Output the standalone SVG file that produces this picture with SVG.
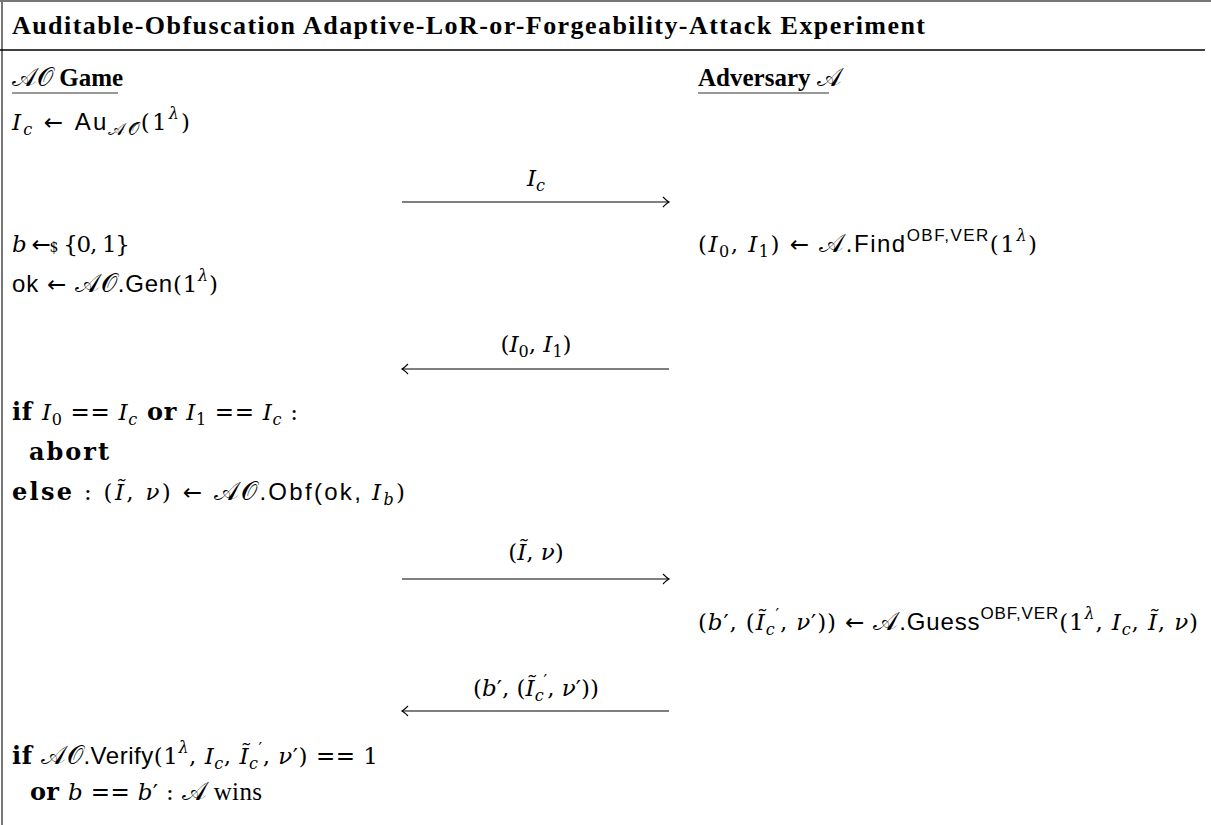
<svg xmlns="http://www.w3.org/2000/svg" width="1211" height="825" viewBox="0 0 1211 825">
<style>
text { font-family: "DejaVu Serif", serif; font-size: 23px; fill: #000; }
.i { font-style: italic; }
.s { font-family: "Liberation Sans", sans-serif; font-style: normal; font-size: 24px; }
.b { font-weight: bold; font-size: 24px; }
.sm { font-size: 16px; }
.ss { font-family: "Liberation Sans", sans-serif; font-size: 17px; }
.op { font-family: "DejaVu Sans", sans-serif; font-size: 23px; }
.cal { font-family: "DejaVu Serif", serif; font-size: 26px; }
.calsm { font-family: "DejaVu Serif", serif; font-size: 18px; }
.txt { font-family: "Liberation Serif", serif; font-size: 25px; }
.title { font-family: "Liberation Serif", serif; font-weight: bold; font-size: 26px; }
.frame { stroke: #777; stroke-width: 2; fill: none; }
.rule { stroke: #000; stroke-width: 1.5; }
.ul { stroke: #333; stroke-width: 1.2; }
.msg { stroke: #000; stroke-width: 1.2; fill: none; marker-end: url(#ah); }
</style>
<defs>
<marker id="ah" viewBox="-10 -7 12 14" refX="0" refY="0" markerWidth="12" markerHeight="14" markerUnits="userSpaceOnUse" orient="auto">
<path d="M-6,-5 Q-2,-1 0,0 Q-2,1 -6,5" fill="none" stroke="#000" stroke-width="1.1"/>
</marker>
</defs>
<rect width="1211" height="825" fill="#fff"/>
<g id="frame">
<line class="frame" x1="0" y1="1" x2="1211" y2="1"/>
<line class="frame" x1="2" y1="0" x2="2" y2="825"/>
<line class="rule" x1="0" y1="50" x2="1205" y2="50"/>
</g>
<g id="title">
<text class="title" x="12" y="34" textLength="913">Auditable-Obfuscation Adaptive-LoR-or-Forgeability-Attack Experiment</text>
</g>
<g id="game-header">
<text x="12" y="86"><tspan class="cal">𝒜𝒪</tspan><tspan class="txt b"> Game</tspan></text>
<line class="ul" x1="12" y1="93" x2="118" y2="93"/>
</g>
<g id="adversary-header">
<text x="698" y="86"><tspan class="txt b">Adversary </tspan><tspan class="cal">𝒜</tspan></text>
<line class="ul" x1="698" y1="93" x2="829" y2="93"/>
</g>
<g id="game-init">
<text x="12" y="130" textLength="178"><tspan class="i">I</tspan><tspan class="i sm" dy="5">c</tspan><tspan dy="-5"> </tspan><tspan class="op">←</tspan><tspan> </tspan><tspan class="s">Au</tspan><tspan class="calsm" dy="5">𝒜𝒪</tspan><tspan dy="-5">(1</tspan><tspan class="i sm" dy="-11">λ</tspan><tspan dy="11">)</tspan></text>
</g>
<g id="game-sample">
<text x="12" y="252" textLength="118"><tspan class="i">b</tspan><tspan> </tspan><tspan class="op">←</tspan><tspan font-size="14">$</tspan><tspan> {0, 1}</tspan></text>
<text x="12" y="292" textLength="206"><tspan class="s">ok</tspan><tspan> </tspan><tspan class="op">←</tspan><tspan> </tspan><tspan class="cal">𝒜𝒪</tspan><tspan class="s">.Gen</tspan><tspan>(1</tspan><tspan class="i sm" dy="-11">λ</tspan><tspan dy="11">)</tspan></text>
</g>
<g id="adv-find">
<text x="698" y="252" textLength="339"><tspan>(</tspan><tspan class="i">I</tspan><tspan class="sm" dy="5">0</tspan><tspan dy="-5">, </tspan><tspan class="i">I</tspan><tspan class="sm" dy="5">1</tspan><tspan dy="-5">) </tspan><tspan class="op">←</tspan><tspan> </tspan><tspan class="cal">𝒜</tspan><tspan class="s">.Find</tspan><tspan class="ss" dy="-11">OBF,VER</tspan><tspan dy="11">(1</tspan><tspan class="i sm" dy="-11">λ</tspan><tspan dy="11">)</tspan></text>
</g>
<g id="game-check">
<text x="12" y="420" textLength="286"><tspan class="b">if </tspan><tspan class="i">I</tspan><tspan class="sm" dy="5">0</tspan><tspan dy="-5"> </tspan><tspan class="op">==</tspan><tspan> </tspan><tspan class="i">I</tspan><tspan class="i sm" dy="5">c</tspan><tspan class="b" dy="-5"> or </tspan><tspan class="i">I</tspan><tspan class="sm" dy="5">1</tspan><tspan dy="-5"> </tspan><tspan class="op">==</tspan><tspan> </tspan><tspan class="i">I</tspan><tspan class="i sm" dy="5">c</tspan><tspan dy="-5"> :</tspan></text>
<text x="29" y="460" class="b" textLength="80">abort</text>
<text x="12" y="500" textLength="393"><tspan class="b">else</tspan><tspan> : (</tspan><tspan class="i">Ĩ</tspan><tspan>, </tspan><tspan class="i">ν</tspan><tspan>) </tspan><tspan class="op">←</tspan><tspan> </tspan><tspan class="cal">𝒜𝒪</tspan><tspan class="s">.Obf(ok, </tspan><tspan class="i">I</tspan><tspan class="i sm" dy="5">b</tspan><tspan dy="-5">)</tspan></text>
</g>
<g id="adv-guess">
<text x="698" y="630" textLength="500"><tspan>(</tspan><tspan class="i">b</tspan><tspan>′, (</tspan><tspan class="i">Ĩ</tspan><tspan class="i sm" dy="5">c</tspan><tspan class="sm" dy="-15">′</tspan><tspan dy="10">, </tspan><tspan class="i">ν</tspan><tspan>′)) </tspan><tspan class="op">←</tspan><tspan> </tspan><tspan class="cal">𝒜</tspan><tspan class="s">.Guess</tspan><tspan class="ss" dy="-11">OBF,VER</tspan><tspan dy="11">(1</tspan><tspan class="i sm" dy="-11">λ</tspan><tspan dy="11">, </tspan><tspan class="i">I</tspan><tspan class="i sm" dy="5">c</tspan><tspan dy="-5">, </tspan><tspan class="i">Ĩ</tspan><tspan>, </tspan><tspan class="i">ν</tspan><tspan>)</tspan></text>
</g>
<g id="game-verify">
<text x="12" y="764" textLength="366"><tspan class="b">if </tspan><tspan class="cal">𝒜𝒪</tspan><tspan class="s">.Verify</tspan><tspan>(1</tspan><tspan class="i sm" dy="-11">λ</tspan><tspan dy="11">, </tspan><tspan class="i">I</tspan><tspan class="i sm" dy="5">c</tspan><tspan dy="-5">, </tspan><tspan class="i">Ĩ</tspan><tspan class="i sm" dy="5">c</tspan><tspan class="sm" dy="-15">′</tspan><tspan dy="10">, </tspan><tspan class="i">ν</tspan><tspan>′) </tspan><tspan class="op">==</tspan><tspan> 1</tspan></text>
<text x="30" y="800" textLength="232"><tspan class="b">or </tspan><tspan class="i">b</tspan><tspan> </tspan><tspan class="op">==</tspan><tspan> </tspan><tspan class="i">b</tspan><tspan>′ : </tspan><tspan class="cal">𝒜</tspan><tspan class="txt"> wins</tspan></text>
</g>
<g id="connectors">
<line class="msg" x1="402" y1="202" x2="669" y2="202"/>
<line class="msg" x1="669" y1="369" x2="402" y2="369"/>
<line class="msg" x1="402" y1="579" x2="669" y2="579"/>
<line class="msg" x1="669" y1="711" x2="402" y2="711"/>
</g>
<g id="labels">
<text x="536" y="186" text-anchor="middle"><tspan class="i">I</tspan><tspan class="i sm" dy="5">c</tspan></text>
<text x="536" y="352" text-anchor="middle"><tspan>(</tspan><tspan class="i">I</tspan><tspan class="sm" dy="5">0</tspan><tspan dy="-5">, </tspan><tspan class="i">I</tspan><tspan class="sm" dy="5">1</tspan><tspan dy="-5">)</tspan></text>
<text x="536" y="560" text-anchor="middle"><tspan>(</tspan><tspan class="i">Ĩ</tspan><tspan>, </tspan><tspan class="i">ν</tspan><tspan>)</tspan></text>
<text x="536" y="696" text-anchor="middle"><tspan>(</tspan><tspan class="i">b</tspan><tspan>′, (</tspan><tspan class="i">Ĩ</tspan><tspan class="i sm" dy="5">c</tspan><tspan class="sm" dy="-15">′</tspan><tspan dy="10">, </tspan><tspan class="i">ν</tspan><tspan>′))</tspan></text>
</g>
</svg>
